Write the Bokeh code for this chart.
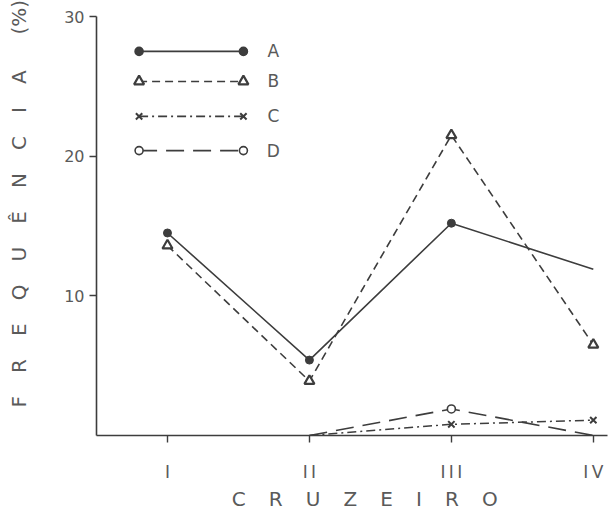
from bokeh.plotting import figure
from bokeh.models import FixedTicker
from bokeh.core.properties import value
from bokeh.embed import file_html
from bokeh.resources import INLINE

# Cruise stations and frequencies (%) of each group
cruzeiros = [1, 2, 3, 4]
cruzeiro_labels = {1: "I", 2: "I\u2009I", 3: "I\u2009I\u2009I", 4: "I\u2009V"}

a_x = [1, 2, 3, 4]
a_y = [14.5, 5.4, 15.2, 11.9]
b_x = [1, 2, 3, 4]
b_y = [13.6, 3.9, 21.5, 6.5]
c_x = [2, 3, 4]
c_y = [0.0, 0.8, 1.1]
d_x = [2, 3, 4]
d_y = [0.0, 1.9, 0.0]

y_ticks = [10, 20, 30]
legend_names = ["A", "B", "C", "D"]

INK = "#3d3d3d"
TXT = "#5a5a5a"
FONT = "DejaVu Sans"
SP = "\u00a0" * 3 + "\u2009"

p = figure(width=610, height=513, output_backend="svg", toolbar_location=None,
           x_range=(0.5, 4.1), y_range=(0, 30),
           min_border_left=96, min_border_bottom=65, min_border_top=16,
           min_border_right=3)
p.outline_line_color = None
p.grid.visible = False
p.background_fill_color = "white"
p.border_fill_color = "white"

for ax in (p.xaxis[0], p.yaxis[0]):
    ax.axis_line_color = INK
    ax.axis_line_width = 1.6
    ax.major_tick_line_color = INK
    ax.major_tick_line_width = 1.4
    ax.major_tick_in = 0
    ax.major_tick_out = 7
    ax.minor_tick_line_color = None
    ax.major_label_text_color = TXT
    ax.major_label_text_font = FONT
    ax.axis_label_text_color = TXT
    ax.axis_label_text_font = FONT
    ax.axis_label_text_font_style = "normal"
    ax.axis_label_text_font_size = "20px"

p.xaxis.ticker = FixedTicker(ticks=cruzeiros)
p.xaxis.major_label_overrides = cruzeiro_labels
p.xaxis.major_label_text_font_size = "17px"
p.xaxis.major_label_standoff = 19
p.xaxis.axis_label = "\u00a0" * 4 + SP.join("CRUZEIRO")
p.xaxis.axis_label_standoff = 2

p.yaxis.ticker = FixedTicker(ticks=y_ticks)
p.yaxis.major_label_text_font_size = "16px"
p.yaxis.major_label_standoff = 5
p.yaxis.major_label_orientation = "horizontal"
p.yaxis.axis_label = "\u00a0" * 7 + SP.join(list("FREQUÊNCIA")) + SP + "\u00a0\u00a0(%)"
p.yaxis.axis_label_standoff = 30

# Series lines
p.line(a_x, a_y, line_color=INK, line_width=1.6)
p.scatter(a_x[:3], a_y[:3], marker="circle", size=8, fill_color=INK, line_color=INK)

p.line(b_x, b_y, line_color=INK, line_width=1.6, line_dash="8 5")
p.scatter(b_x, b_y, marker="triangle", size=10, fill_color="white", line_color=INK, line_width=2.2)

p.line(c_x, c_y, line_color=INK, line_width=1.5, line_dash="9 4 2 4")
p.scatter(c_x[1:], c_y[1:], marker="x", size=9, line_color=INK, line_width=2)

p.line(d_x, d_y, line_color=INK, line_width=1.6, line_dash="18 9")
p.scatter(d_x[1:2], d_y[1:2], marker="circle", size=8, fill_color="white", line_color=INK, line_width=1.6)

# Hand-drawn style key in the upper left
key_y = [27.5, 25.35, 22.85, 20.4]
key_x0, key_x1, key_label_x = 0.8, 1.535, 1.746
key_styles = [
    dict(dash="solid", marker="circle", fill=INK),
    dict(dash="8 5", marker="triangle", fill="white"),
    dict(dash="9 4 2 4", marker="x", fill=INK),
    dict(dash="18 9", marker="circle", fill="white"),
]
for ky, st in zip(key_y, key_styles):
    p.line([key_x0, key_x1], [ky, ky], line_color=INK, line_width=1.6, line_dash=st["dash"])
    size = 10 if st["marker"] == "triangle" else (9 if st["marker"] == "x" else 8)
    lw = 2.2 if st["marker"] == "triangle" else (2 if st["marker"] == "x" else 1.6)
    p.scatter([key_x0, key_x1], [ky, ky], marker=st["marker"], size=size,
              fill_color=st["fill"], line_color=INK, line_width=lw)

p.text(x=[key_label_x] * 4, y=key_y, text=legend_names,
       text_font=value(FONT), text_font_size="17px", text_color=TXT,
       text_align="center", text_baseline="middle")

open("out.html", "w").write(file_html(p, INLINE))
